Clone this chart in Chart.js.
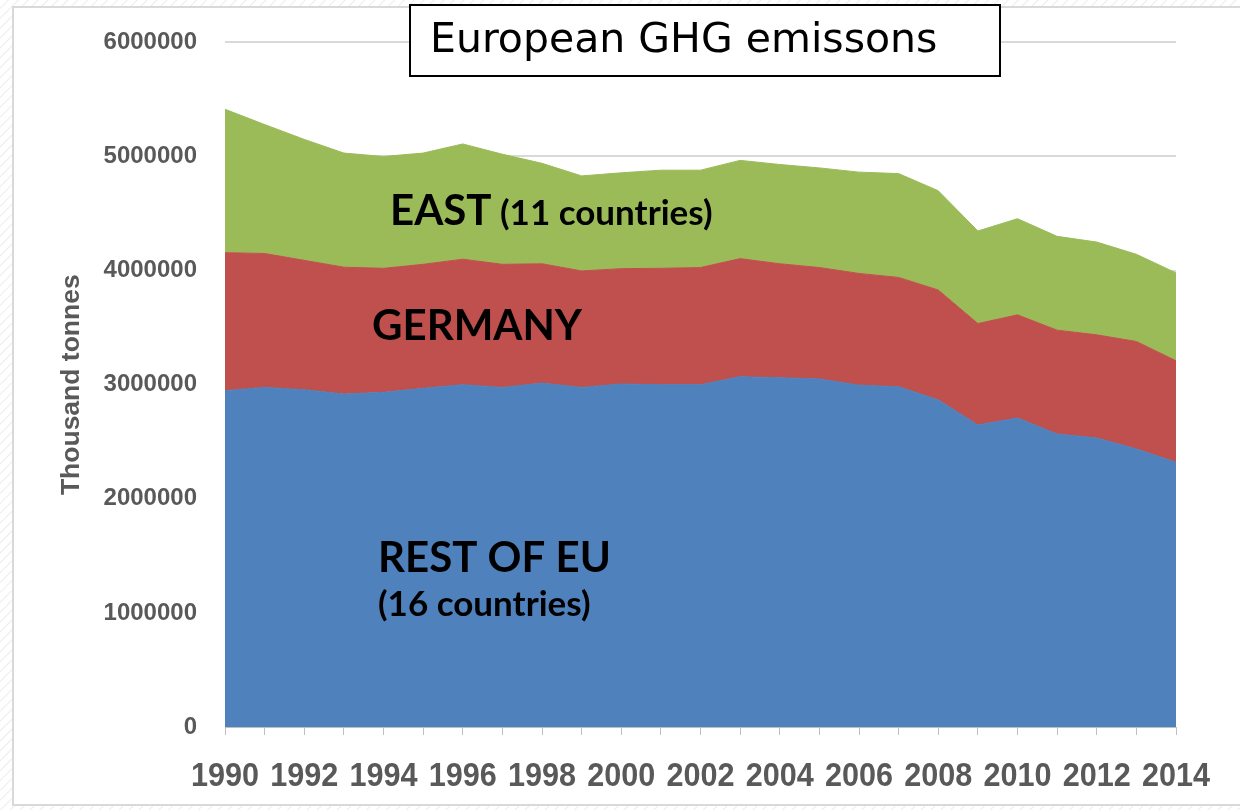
<!DOCTYPE html>
<html>
<head>
<meta charset="utf-8">
<script src="https://cdn.jsdelivr.net/npm/chart.js@4"></script>
<style>
  html, body { margin: 0; padding: 0; }
  body {
    width: 1240px; height: 810px; overflow: hidden; position: relative;
    background: repeating-linear-gradient(135deg, #ffffff 0px, #ffffff 5px, #ececec 6px, #ffffff 7px);
  }
  #frame {
    position: absolute; left: 12px; top: 6px; width: 1240px; height: 800px;
    background: #ffffff; border: 2px solid #d9d9d9; box-sizing: border-box;
  }
  #wrap { position: absolute; left: 0; top: 0; width: 1240px; height: 810px; }
</style>
</head>
<body>
<div id="frame"></div>
<div id="wrap"><canvas id="c" width="1240" height="810"></canvas></div>
<script>
// ---- Data (thousand tonnes) ----
const years = ['1990','1991','1992','1993','1994','1995','1996','1997','1998','1999','2000','2001','2002',
               '2003','2004','2005','2006','2007','2008','2009','2010','2011','2012','2013','2014'];
const restOfEU = [2948000, 2976000, 2956000, 2918000, 2933000, 2968000, 3000000, 2976000, 3014000, 2976000,
                  3006000, 3000000, 3000000, 3070000, 3061000, 3050000, 2996000, 2982000, 2866000, 2647000,
                  2708000, 2568000, 2533000, 2437000, 2320000];
const germany = [1209000, 1174000, 1134000, 1112000, 1087000, 1087000, 1100000, 1079000, 1046000, 1021000,
                 1011000, 1020000, 1027000, 1035000, 999000, 977000, 979000, 958000, 964000, 889000,
                 904000, 910000, 904000, 942000, 890000];
const east = [1257000, 1130000, 1060000, 1000000, 980000, 975000, 1010000, 965000, 880000, 833000,
              840000, 860000, 853000, 861000, 870000, 873000, 888000, 910000, 870000, 811000,
              843000, 822000, 813000, 764000, 770000];
const yTicks = [0, 1000000, 2000000, 3000000, 4000000, 5000000, 6000000];
const titleText = 'European GHG emissons';
const yAxisTitle = 'Thousand tonnes';

// Condensed x-axis year labels (every second year), placed through the x scale
const xLabels = {
  id: 'xLabels',
  afterDraw(chart) {
    const ctx = chart.ctx;
    const xs = chart.scales.x;
    ctx.save();
    ctx.fillStyle = '#595959';
    ctx.font = 'bold 34px "Liberation Sans", Arial, sans-serif';
    ctx.textAlign = 'center';
    ctx.textBaseline = 'alphabetic';
    years.forEach((y, i) => {
      if (i % 2 !== 0) return;
      const px = xs.getPixelForValue(i);
      ctx.save();
      ctx.translate(px, xs.top + 59);
      ctx.scale(0.9, 1);
      ctx.fillText(y, 0, 0);
      ctx.restore();
    });
    ctx.restore();
  }
};

const annotations = {
  id: 'annotations',
  afterDraw(chart) {
    const ctx = chart.ctx;
    ctx.save();
    // Title box
    ctx.fillStyle = '#ffffff';
    ctx.fillRect(410, 5, 590, 71);
    ctx.strokeStyle = '#000000';
    ctx.lineWidth = 2;
    ctx.strokeRect(410, 5, 590, 71);
    ctx.fillStyle = '#000000';
    ctx.textBaseline = 'alphabetic';
    ctx.textAlign = 'left';
    ctx.font = '41px "DejaVu Sans"';
    ctx.fillText(titleText, 430, 52);
    // Area labels
    ctx.font = 'bold 42px Lato';
    ctx.fillText('EAST', 390, 225);
    ctx.font = 'bold 35px Lato';
    ctx.fillText('(11 countries)', 500, 225);
    ctx.font = 'bold 42px Lato';
    ctx.fillText('GERMANY', 372, 340);
    ctx.fillText('REST OF EU', 378, 572);
    ctx.font = 'bold 35px Lato';
    ctx.fillText('(16 countries)', 378, 616);
    ctx.restore();
  }
};

new Chart(document.getElementById('c'), {
  type: 'line',
  data: {
    labels: years,
    datasets: [
      { label: 'Rest of EU', data: restOfEU, backgroundColor: '#4F81BD', borderColor: '#4F81BD', fill: 'origin' },
      { label: 'Germany', data: germany, backgroundColor: '#C0504D', borderColor: '#C0504D', fill: '-1' },
      { label: 'East', data: east, backgroundColor: '#9BBB59', borderColor: '#9BBB59', fill: '-1' }
    ]
  },
  options: {
    responsive: false,
    animation: false,
    events: [],
    layout: { padding: { left: 0, top: 41, right: 64, bottom: 0 } },
    elements: { point: { radius: 0 }, line: { borderWidth: 1, tension: 0 } },
    plugins: { legend: { display: false }, tooltip: { enabled: false }, title: { display: false } },
    scales: {
      x: {
        type: 'category',
        offset: false,
        afterFit(s) { s.height = 83; },
        grid: { display: true, drawOnChartArea: false, drawTicks: true, tickLength: 8, color: '#bfbfbf', lineWidth: 1 },
        border: { display: true, color: '#bfbfbf', width: 1 },
        ticks: {
          autoSkip: false, maxRotation: 0, minRotation: 0, padding: 16,
          color: 'rgba(0,0,0,0)',
          font: { size: 12 },
          callback() { return ''; }
        }
      },
      y: {
        stacked: true,
        min: 0, max: 6000000,
        afterFit(s) { s.width = 225; },
        afterBuildTicks(s) { s.ticks = yTicks.map(v => ({ value: v })); },
        grid: { color: '#d9d9d9', lineWidth: 2, drawTicks: false },
        border: { display: false },
        ticks: {
          padding: 28, color: '#595959',
          font: { family: '"Liberation Sans", Arial, sans-serif', size: 24, weight: 'bold' },
          callback(v) { return String(v); }
        },
        title: {
          display: true, text: yAxisTitle, color: '#595959',
          font: { family: '"Liberation Sans", Arial, sans-serif', size: 26.5, weight: 'bold' },
          padding: { top: 56, bottom: 0 }
        }
      }
    }
  },
  plugins: [annotations, xLabels]
});
</script>
</body>
</html>
